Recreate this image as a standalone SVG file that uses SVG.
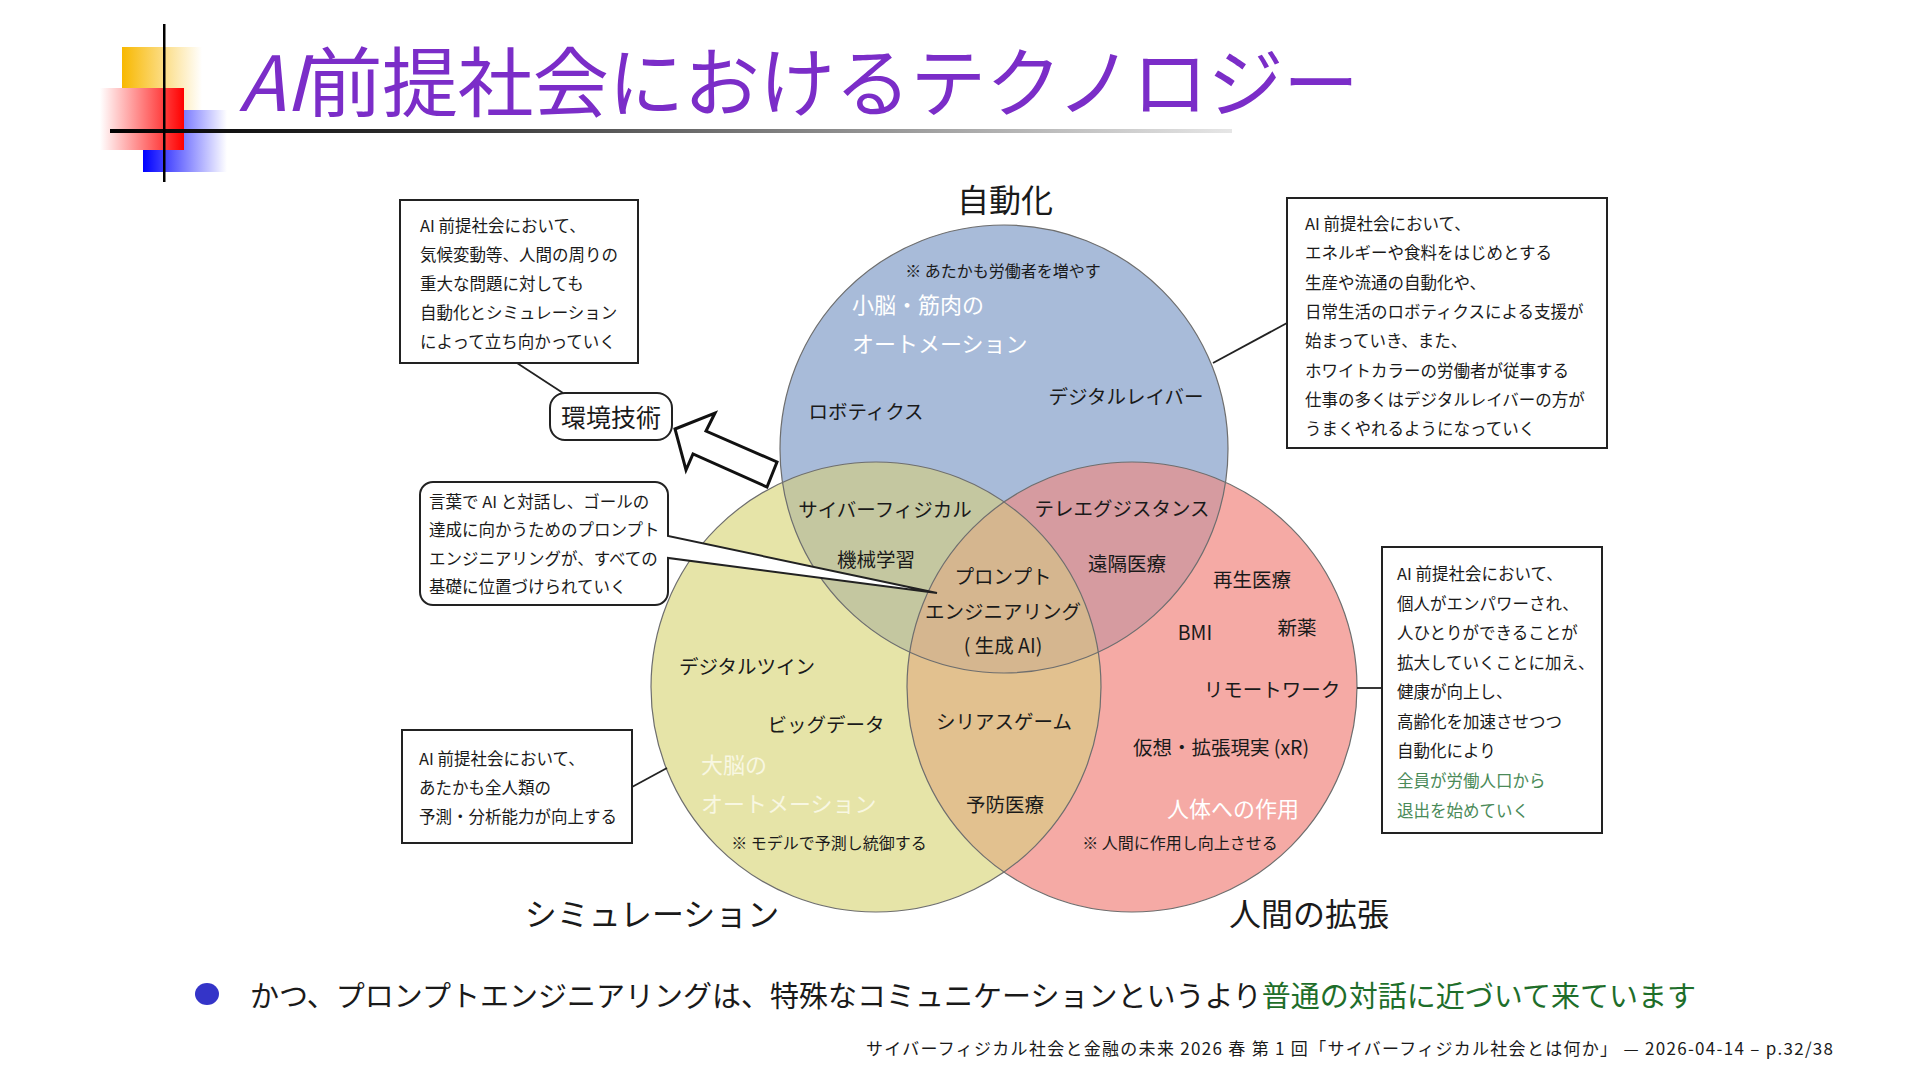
<svg xmlns="http://www.w3.org/2000/svg" width="1920" height="1081" viewBox="0 0 1920 1081">
<defs>
<style>
text{font-family:"Noto Sans CJK JP","Noto Sans",sans-serif;fill:#1a1a1a}
.lbl{font-size:19.5px;text-anchor:middle}
.note{font-size:16px;text-anchor:middle}
.bx{font-size:16.5px}
.wt{font-size:22px;fill:#ffffff}
.wy{font-size:22px;fill:#f8f7e2}
.head{font-size:32px;text-anchor:middle}
.box{fill:#fff;stroke:#222;stroke-width:2}
.conn line{stroke:#222;stroke-width:1.8}
.ring{fill:none;stroke:#6e6e6e;stroke-width:1.2}
</style>
<linearGradient id="gY" x1="0" y1="0" x2="1" y2="0"><stop offset="0" stop-color="#f8b800"/><stop offset="1" stop-color="#ffffff"/></linearGradient>
<linearGradient id="gR" x1="0" y1="0" x2="1" y2="0"><stop offset="0" stop-color="#ffffff"/><stop offset="1" stop-color="#ff0000"/></linearGradient>
<linearGradient id="gB" x1="0" y1="0" x2="1" y2="0"><stop offset="0" stop-color="#0000ff"/><stop offset="1" stop-color="#ffffff"/></linearGradient>
<linearGradient id="gL" x1="0" y1="0" x2="1" y2="0"><stop offset="0" stop-color="#000"/><stop offset="0.3" stop-color="#333"/><stop offset="1" stop-color="#e6e6e6"/></linearGradient>
<clipPath id="cB"><circle cx="1004" cy="449" r="224"/></clipPath>
<clipPath id="cY"><circle cx="876" cy="687" r="225"/></clipPath>
</defs>

<g id="title">
<rect x="122" y="47" width="80" height="74" fill="url(#gY)"/>
<rect x="143" y="110" width="84" height="62" fill="url(#gB)"/>
<rect x="100" y="88" width="84" height="62" fill="url(#gR)"/>
<rect x="110" y="129" width="1122" height="4" fill="url(#gL)"/>
<rect x="163" y="24" width="2.5" height="158" fill="#000"/>
<text x="239" y="111" font-size="76" textLength="1120" lengthAdjust="spacing" style="fill:#7b2dc8"><tspan font-style="italic">AI</tspan>前提社会におけるテクノロジー</text>
</g>

<g id="venn">
<circle cx="876" cy="687" r="225" fill="#e6e4a8"/>
<circle cx="1132" cy="687" r="225" fill="#f5aaa5"/>
<circle cx="1004" cy="449" r="224" fill="#a8bbd9"/>
<g clip-path="url(#cB)">
<circle cx="876" cy="687" r="225" fill="#c4c7a0"/>
<circle cx="1132" cy="687" r="225" fill="#d69ba0"/>
</g>
<g clip-path="url(#cY)">
<circle cx="1132" cy="687" r="225" fill="#e2c18f"/>
<g clip-path="url(#cB)"><circle cx="1132" cy="687" r="225" fill="#d5b68f"/></g>
</g>
<circle class="ring" cx="876" cy="687" r="225"/>
<circle class="ring" cx="1132" cy="687" r="225"/>
<circle class="ring" cx="1004" cy="449" r="224"/>
</g>

<g id="headings">
<text class="head" x="1005" y="212">自動化</text>
<text class="head" x="652" y="926">シミュレーション</text>
<text class="head" x="1309" y="926">人間の拡張</text>
</g>

<g id="labels">
<text class="note" x="1003" y="277">※ あたかも労働者を増やす</text>
<text class="wt" x="852" y="313">小脳・筋肉の</text>
<text class="wt" x="852" y="352">オートメーション</text>
<text class="lbl" x="866" y="419">ロボティクス</text>
<text class="lbl" x="1126" y="404">デジタルレイバー</text>
<text class="lbl" x="885" y="517">サイバーフィジカル</text>
<text class="lbl" x="876" y="567">機械学習</text>
<text class="lbl" x="1122" y="516">テレエグジスタンス</text>
<text class="lbl" x="1127" y="571">遠隔医療</text>
<text class="lbl" x="1003" y="584">プロンプト</text>
<text class="lbl" x="1003" y="619">エンジニアリング</text>
<text class="lbl" x="1003" y="653">( 生成 AI)</text>
<text class="lbl" x="1252" y="587">再生医療</text>
<text class="lbl" x="1195" y="640">BMI</text>
<text class="lbl" x="1297" y="635">新薬</text>
<text class="lbl" x="1272" y="697">リモートワーク</text>
<text class="lbl" x="1004" y="729">シリアスゲーム</text>
<text class="lbl" x="1221" y="755">仮想・拡張現実 (xR)</text>
<text class="lbl" x="1005" y="812">予防医療</text>
<text class="lbl" x="747" y="674">デジタルツイン</text>
<text class="lbl" x="826" y="732">ビッグデータ</text>
<text class="wy" x="701" y="773">大脳の</text>
<text class="wy" x="701" y="812">オートメーション</text>
<text class="wt" x="1167" y="817">人体への作用</text>
<text class="note" x="829" y="849">※ モデルで予測し統御する</text>
<text class="note" x="1180" y="849">※ 人間に作用し向上させる</text>
</g>

<g id="connectors" class="conn">
<line x1="517" y1="363" x2="563" y2="393"/>
<line x1="1213" y1="363" x2="1287" y2="323"/>
<line x1="632" y1="787" x2="667" y2="768"/>
<line x1="1357" y1="688" x2="1382" y2="688"/>
</g>

<g id="arrow">
<polygon points="675,429 715,413 706,431 777,462 767,487 693,454 686,470" fill="#fff" stroke="#111" stroke-width="3" stroke-linejoin="miter"/>
</g>

<g id="env-tech">
<rect class="box" x="550" y="393" width="122" height="47" rx="15"/>
<text x="611" y="427" font-size="25" text-anchor="middle">環境技術</text>
</g>

<g id="note-tl">
<rect class="box" x="400" y="200" width="238" height="163"/>
<text class="bx" x="420" y="232">AI 前提社会において、</text>
<text class="bx" x="420" y="261">気候変動等、人間の周りの</text>
<text class="bx" x="420" y="290">重大な問題に対しても</text>
<text class="bx" x="420" y="319">自動化とシミュレーション</text>
<text class="bx" x="420" y="348">によって立ち向かっていく</text>
</g>

<g id="note-tr">
<rect class="box" x="1287" y="198" width="320" height="250"/>
<text class="bx" x="1305" y="230">AI 前提社会において、</text>
<text class="bx" x="1305" y="259">エネルギーや食料をはじめとする</text>
<text class="bx" x="1305" y="289">生産や流通の自動化や、</text>
<text class="bx" x="1305" y="318">日常生活のロボティクスによる支援が</text>
<text class="bx" x="1305" y="347">始まっていき、また、</text>
<text class="bx" x="1305" y="377">ホワイトカラーの労働者が従事する</text>
<text class="bx" x="1305" y="406">仕事の多くはデジタルレイバーの方が</text>
<text class="bx" x="1305" y="435">うまくやれるようになっていく</text>
</g>

<g id="note-prompt">
<path class="box" d="M433,482 H655 A13,13 0 0 1 668,495 V536 L937,593 L668,558 V592 A13,13 0 0 1 655,605 H433 A13,13 0 0 1 420,592 V495 A13,13 0 0 1 433,482 Z"/>
<text class="bx" x="429" y="508">言葉で AI と対話し、ゴールの</text>
<text class="bx" x="429" y="536">達成に向かうためのプロンプト</text>
<text class="bx" x="429" y="565">エンジニアリングが、すべての</text>
<text class="bx" x="429" y="593">基礎に位置づけられていく</text>
</g>

<g id="note-bl">
<rect class="box" x="402" y="730" width="230" height="113"/>
<text class="bx" x="419" y="765">AI 前提社会において、</text>
<text class="bx" x="419" y="794">あたかも全人類の</text>
<text class="bx" x="419" y="823">予測・分析能力が向上する</text>
</g>

<g id="note-r">
<rect class="box" x="1382" y="547" width="220" height="286"/>
<text class="bx" x="1397" y="580">AI 前提社会において、</text>
<text class="bx" x="1397" y="610">個人がエンパワーされ、</text>
<text class="bx" x="1397" y="639">人ひとりができることが</text>
<text class="bx" x="1397" y="669">拡大していくことに加え、</text>
<text class="bx" x="1397" y="698">健康が向上し、</text>
<text class="bx" x="1397" y="728">高齢化を加速させつつ</text>
<text class="bx" x="1397" y="757">自動化により</text>
<text class="bx" x="1397" y="787" style="fill:#4a8a58">全員が労働人口から</text>
<text class="bx" x="1397" y="817" style="fill:#4a8a58">退出を始めていく</text>
</g>

<g id="bullet">
<ellipse cx="207" cy="994" rx="12" ry="11" fill="#3434c8"/>
<text x="250" y="1007" font-size="29">かつ、プロンプトエンジニアリングは、特殊なコミュニケーションというより<tspan style="fill:#1e6e2a">普通の対話に近づいて来ています</tspan></text>
</g>

<g id="footer">
<text x="1833" y="1055" font-size="17" text-anchor="end" textLength="967" lengthAdjust="spacing">サイバーフィジカル社会と金融の未来 2026 春 第 1 回「サイバーフィジカル社会とは何か」 — 2026-04-14 – p.32/38</text>
</g>
</svg>
